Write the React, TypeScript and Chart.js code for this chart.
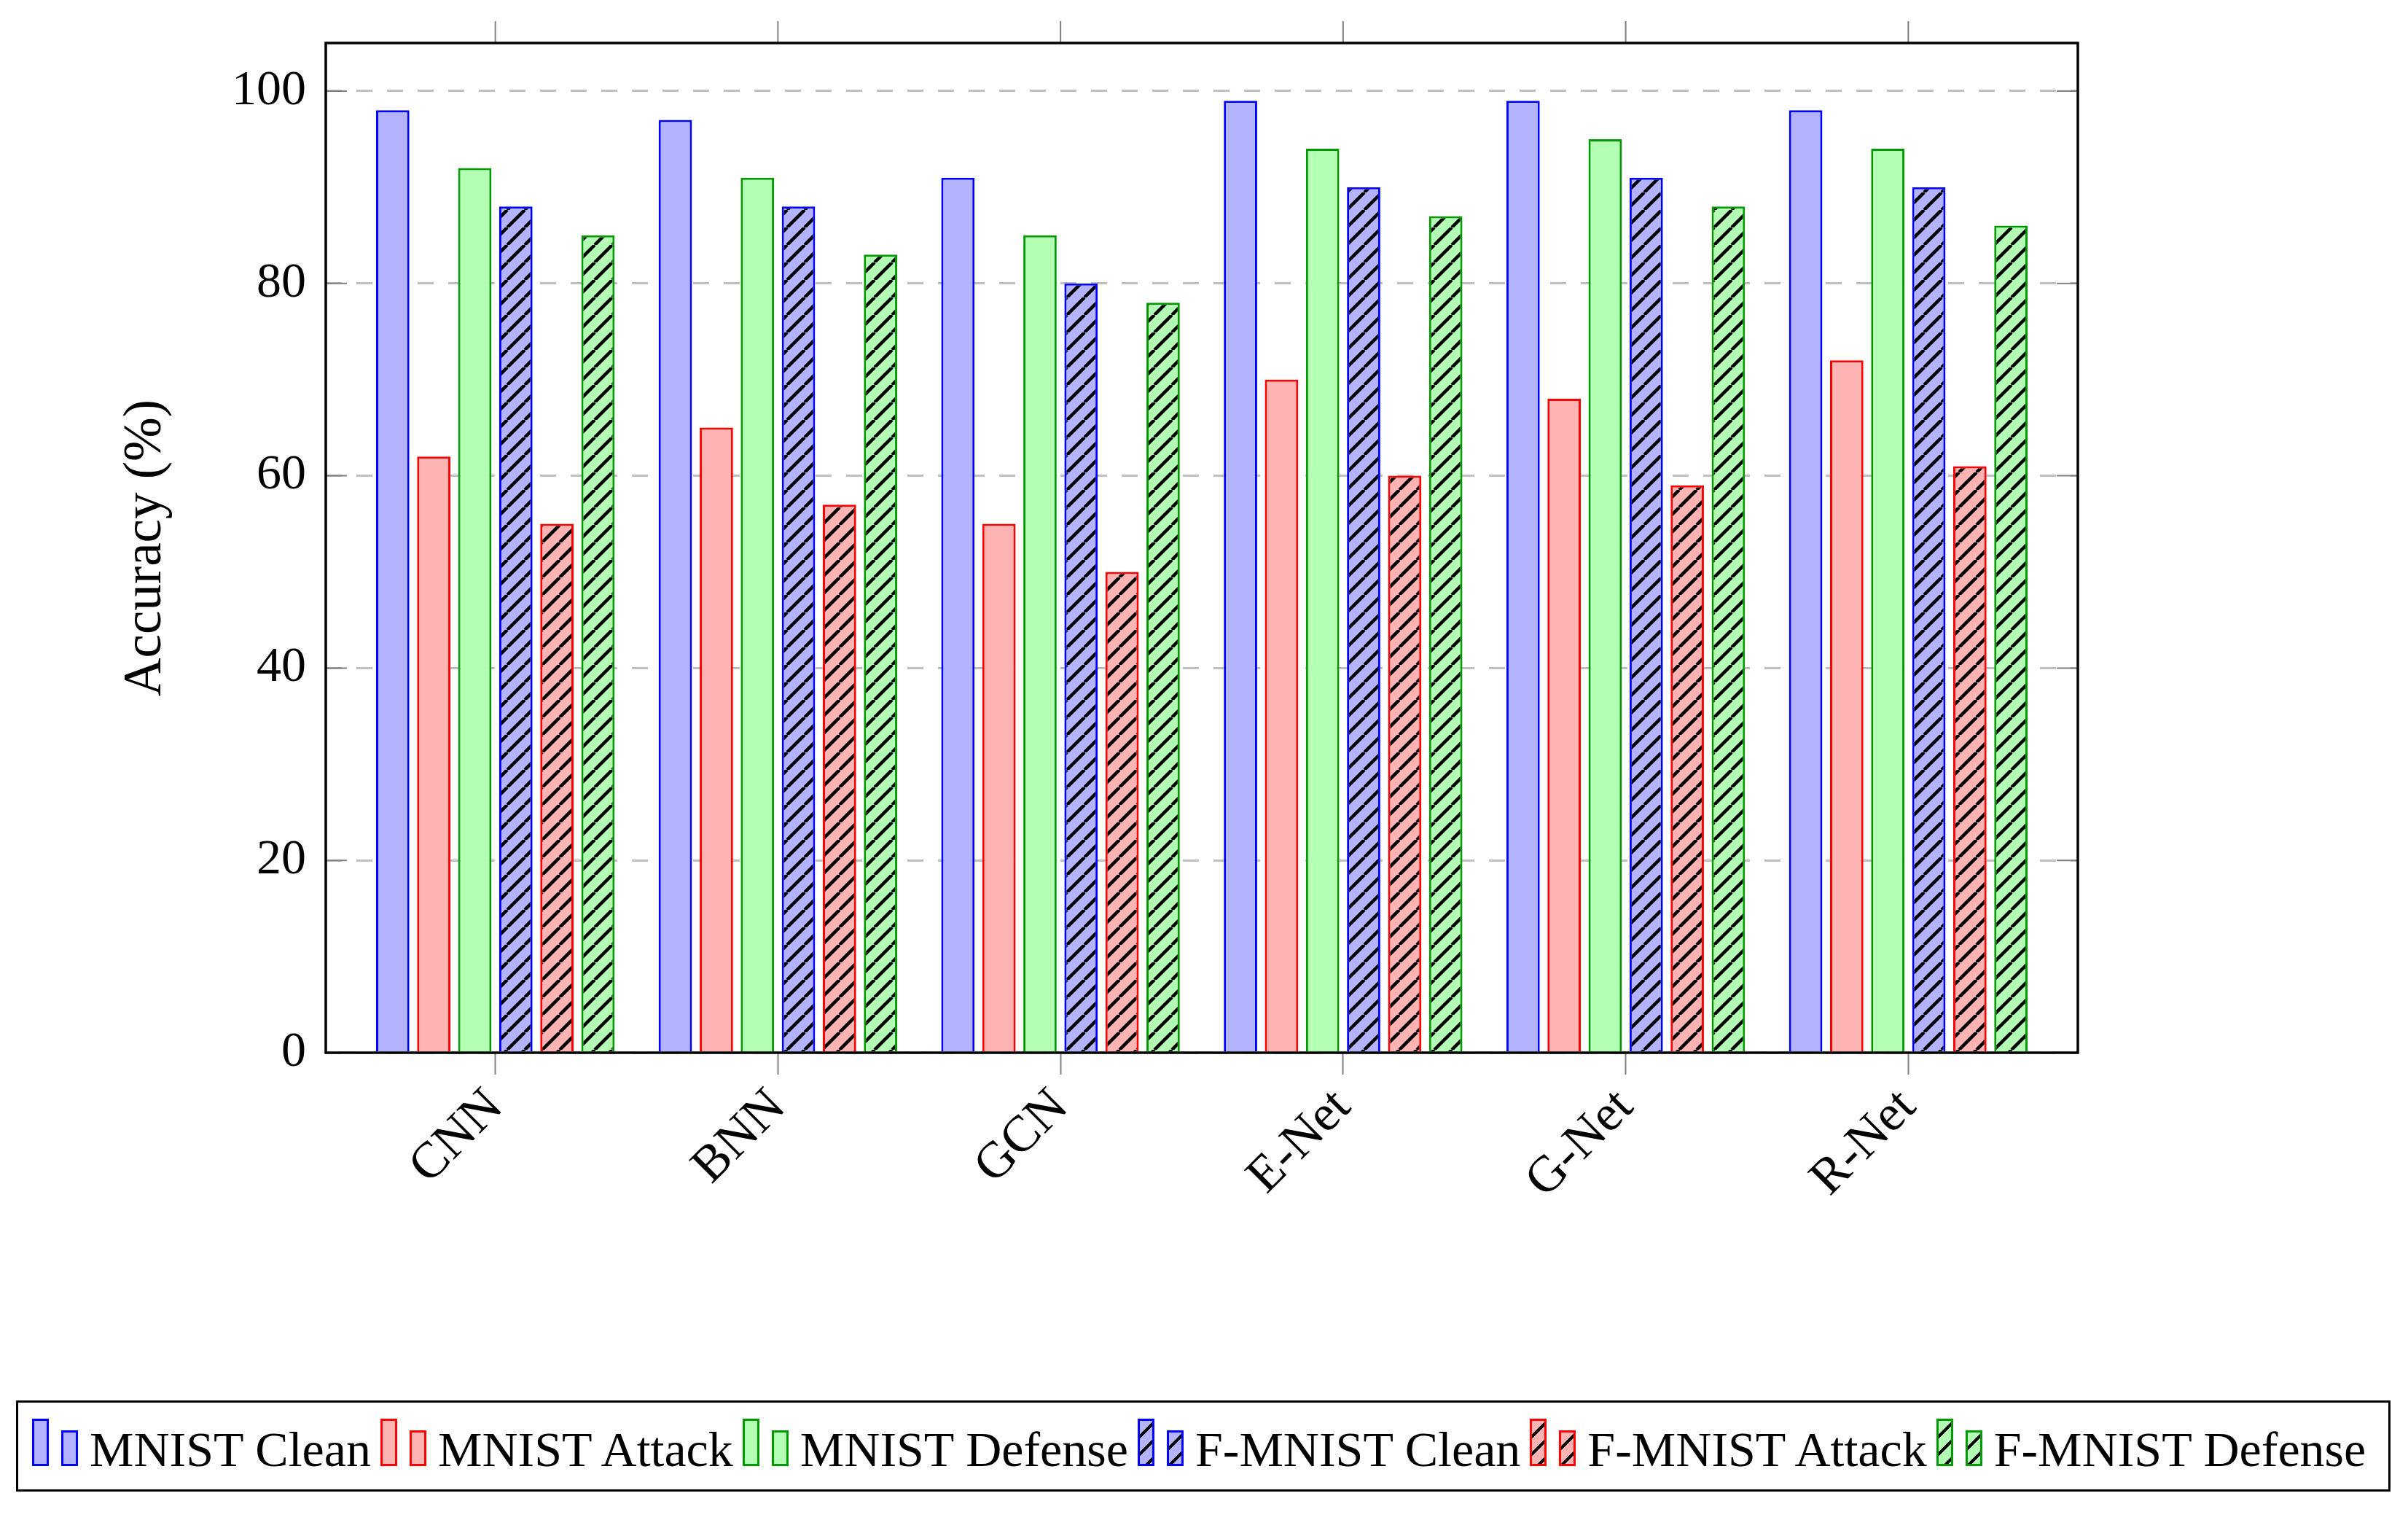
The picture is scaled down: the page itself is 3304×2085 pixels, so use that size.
import React, { useEffect, useRef } from "react";
import { Chart, registerables } from "chart.js";

Chart.register(...registerables);

// ---------- data ----------
const categories = ["CNN", "BNN", "GCN", "E-Net", "G-Net", "R-Net"];
const seriesNames = [
  "MNIST Clean",
  "MNIST Attack",
  "MNIST Defense",
  "F-MNIST Clean",
  "F-MNIST Attack",
  "F-MNIST Defense",
];
const mnistClean = [98, 97, 91, 99, 99, 98];
const mnistAttack = [62, 65, 55, 70, 68, 72];
const mnistDefense = [92, 91, 85, 94, 95, 94];
const fmnistClean = [88, 88, 80, 90, 91, 90];
const fmnistAttack = [55, 57, 50, 60, 59, 61];
const fmnistDefense = [85, 83, 78, 87, 88, 86];
const yTickValues = [0, 20, 40, 60, 80, 100];
const yAxisTitle = "Accuracy (%)";

const seriesValues = [mnistClean, mnistAttack, mnistDefense, fmnistClean, fmnistAttack, fmnistDefense];

// ---------- styles ----------
const FONT = '"Liberation Serif", "Times New Roman", serif';
const FONT_SIZE = 68;
const W = 3304;
const H = 1900;
const AREA = { left: 447, right: 2851, top: 59, bottom: 1444 };

const STYLES = [
  { fill: "#b3b3ff", border: "#0000ff", hatch: false },
  { fill: "#ffb3b3", border: "#ff0000", hatch: false },
  { fill: "#b3ffb3", border: "#009900", hatch: false },
  { fill: "#b3b3ff", border: "#0000ff", hatch: true },
  { fill: "#ffb3b3", border: "#ff0000", hatch: true },
  { fill: "#b3ffb3", border: "#009900", hatch: true },
];

function makeHatch(fill: string): CanvasPattern | string {
  const s = 24;
  const c = document.createElement("canvas");
  c.width = s;
  c.height = s;
  const g = c.getContext("2d");
  if (!g) return fill;
  g.fillStyle = fill;
  g.fillRect(0, 0, s, s);
  g.strokeStyle = "#000";
  g.lineWidth = 4.5;
  g.beginPath();
  for (const x0 of [-s, 0, s]) {
    g.moveTo(x0, s);
    g.lineTo(x0 + s, 0);
  }
  g.stroke();
  const p = g.createPattern(c, "repeat");
  return p || fill;
}

const framePlugin = {
  id: "pgfFrame",
  afterDraw(chart: any) {
    const { ctx, chartArea: a, scales } = chart;
    const xs = scales.x;
    const ys = scales.y;
    ctx.save();
    ctx.strokeStyle = "#808080";
    ctx.lineWidth = 2;
    ctx.beginPath();
    ys.ticks.forEach((t: any) => {
      const py = ys.getPixelForValue(t.value);
      ctx.moveTo(a.left, py);
      ctx.lineTo(a.left + 29, py);
      ctx.moveTo(a.right, py);
      ctx.lineTo(a.right - 29, py);
    });
    xs.ticks.forEach((t: any) => {
      const px = xs.getPixelForValue(t.value);
      ctx.moveTo(px, a.top);
      ctx.lineTo(px, a.top - 30);
    });
    ctx.stroke();
    ctx.strokeStyle = "#000";
    ctx.lineWidth = 3.5;
    ctx.strokeRect(a.left, a.top, a.right - a.left, a.bottom - a.top);
    ctx.restore();
  },
};

function iconStyle(i: number, h: number): React.CSSProperties {
  const st = STYLES[i];
  return {
    display: "inline-block",
    width: 23,
    height: h,
    boxSizing: "border-box",
    border: `3px solid ${st.border}`,
    background: st.hatch
      ? `repeating-linear-gradient(135deg, ${st.fill} 0px, ${st.fill} 13px, #000 13px, #000 17px)`
      : st.fill,
  };
}

export default function App() {
  const ref = useRef<HTMLCanvasElement | null>(null);

  useEffect(() => {
    if (!ref.current) return;
    const datasets = seriesNames.map((name, k) => ({
      label: name,
      data: seriesValues[k].map((v, i) => ({ x: i, y: v })),
      backgroundColor: STYLES[k].hatch ? makeHatch(STYLES[k].fill) : STYLES[k].fill,
      borderColor: STYLES[k].border,
      borderWidth: 3,
      categoryPercentage: 0.8715,
      barPercentage: 0.812,
    }));

    const chart = new Chart(ref.current, {
      type: "bar",
      data: { datasets } as any,
      plugins: [framePlugin],
      options: {
        animation: false,
        responsive: false,
        devicePixelRatio: 1,
        layout: { padding: { left: 0, right: W - AREA.right, top: AREA.top, bottom: 0 } },
        plugins: {
          legend: { display: false },
          tooltip: { enabled: false },
          title: { display: false },
        },
        scales: {
          x: {
            type: "linear",
            min: -0.6,
            max: 5.6,
            offset: false,
            grid: {
              display: true,
              drawOnChartArea: false,
              drawTicks: true,
              tickLength: 30,
              tickColor: "#808080",
              tickWidth: 2,
              offset: false,
            },
            border: { display: false },
            afterBuildTicks: (s: any) => {
              s.ticks = categories.map((_, i) => ({ value: i }));
            },
            ticks: {
              autoSkip: false,
              maxRotation: 45,
              minRotation: 45,
              padding: 4,
              color: "#000",
              font: { family: FONT, size: 70 },
              callback: (v: any) => categories[Math.round(Number(v))] ?? "",
            },
            afterFit: (s: any) => {
              s.height = H - AREA.bottom;
            },
          },
          y: {
            type: "linear",
            min: 0,
            max: 105,
            afterBuildTicks: (s: any) => {
              s.ticks = yTickValues.map((v) => ({ value: v }));
            },
            ticks: {
              padding: 0,
              color: "#000",
              font: { family: FONT, size: FONT_SIZE },
            },
            grid: {
              color: "#bfbfbf",
              lineWidth: 3,
              drawTicks: true,
              tickLength: 27,
              tickColor: "rgba(0,0,0,0)",
            },
            border: { display: false, dash: [22, 20] },
            title: {
              display: true,
              text: yAxisTitle,
              color: "#000",
              font: { family: FONT, size: 73 },
              padding: { top: 157, bottom: 0 },
            },
            afterFit: (s: any) => {
              s.width = AREA.left;
            },
          },
        },
      } as any,
    });
    return () => chart.destroy();
  }, []);

  return (
    <div
      style={{
        position: "absolute",
        left: 0,
        top: 0,
        width: W,
        height: 2085,
        background: "#fff",
        overflow: "hidden",
      }}
    >
      <canvas
        ref={ref}
        width={W}
        height={H}
        style={{ position: "absolute", left: 0, top: 0, width: W, height: H }}
      />
      <div
        style={{
          position: "absolute",
          left: 22,
          top: 1921,
          width: 3258,
          height: 125,
          border: "3.5px solid #000",
          boxSizing: "border-box",
          display: "flex",
          alignItems: "center",
          paddingLeft: 19,
          fontFamily: FONT,
          fontSize: FONT_SIZE,
          whiteSpace: "nowrap",
          color: "#000",
        }}
      >
        {seriesNames.map((name, i) => (
          <div key={name} style={{ display: "flex", alignItems: "baseline", marginRight: 13 }}>
            <span style={iconStyle(i, 65)} />
            <span style={{ ...iconStyle(i, 49), marginLeft: 17 }} />
            <span style={{ marginLeft: 16, lineHeight: "68px" }}>{name}</span>
          </div>
        ))}
      </div>
    </div>
  );
}
